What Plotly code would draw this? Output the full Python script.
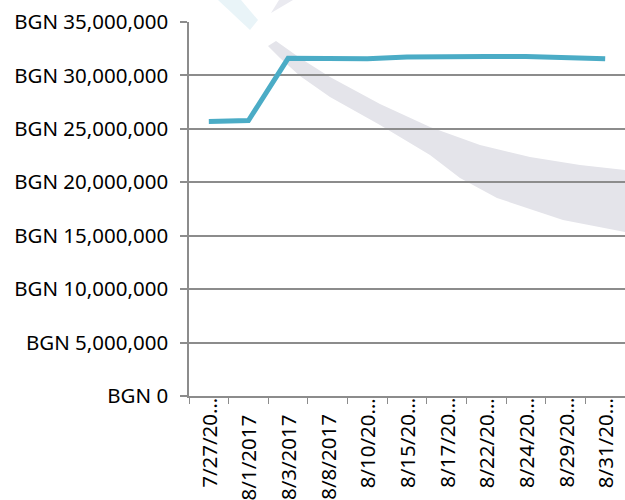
import plotly.graph_objects as go

categories = ["7/27/2017", "8/1/2017", "8/3/2017", "8/8/2017", "8/10/2017", "8/15/2017",
              "8/17/2017", "8/22/2017", "8/24/2017", "8/29/2017", "8/31/2017"]
tick_labels = ["7/27/20…", "8/1/2017", "8/3/2017", "8/8/2017", "8/10/20…", "8/15/20…",
               "8/17/20…", "8/22/20…", "8/24/20…", "8/29/20…", "8/31/20…"]
values = [25700000, 25780000, 31600000, 31550000, 31550000, 31720000,
          31800000, 31780000, 31760000, 31620000, 31550000]
y_ticks = [0, 5000000, 10000000, 15000000, 20000000, 25000000, 30000000, 35000000]
y_labels = ["BGN " + f"{v:,}" for v in y_ticks]

# plot area in pixels (for decorative watermark conversion)
PL, PR, PT, PB = 189, 625, 22, 396
def to_paper(pts):
    return [((x - PL) / (PR - PL), (PB - y) / (PB - PT)) for x, y in pts]

def path(pts):
    p = to_paper(pts)
    s = "M %f,%f " % p[0]
    for x, y in p[1:]:
        s += "L %f,%f " % (x, y)
    return s + "Z"

# decorative background watermark (logo swoosh)
grey_swoosh = [(268, 46), (276, 41), (300, 58), (330, 77), (380, 104), (430, 127), (480, 145),
               (530, 157), (580, 165), (625, 170), (625, 232), (563, 220), (497, 198),
               (460, 178), (430, 155), (380, 125), (330, 97), (300, 76), (280, 58)]
grey_tip = [(271, 13), (279, 0), (293, 0)]
blue_swoosh = [(218, 0), (241, 0), (258, 20), (250, 30)]

fig = go.Figure()
fig.add_trace(go.Scatter(
    x=categories, y=values, mode="lines",
    line=dict(color="#4BACC6", width=5),
    hoverinfo="skip", showlegend=False,
))

FS = 20.5
annotations = []
for cat, lab in zip(categories, tick_labels):
    top_px = 396 if lab.endswith("…") else 412
    annotations.append(dict(
        x=cat, xref="x", y=(PB - top_px) / (PB - PT), yref="paper",
        text=lab, textangle=-90, showarrow=False,
        xanchor="center", yanchor="top", font=dict(size=FS, color="black"),
    ))

fig.update_layout(
    width=625, height=500,
    margin=dict(l=PL, r=625 - PR, t=PT, b=500 - PB, autoexpand=False),
    paper_bgcolor="white", plot_bgcolor="rgba(0,0,0,0)",
    font=dict(family="Noto Sans, Open Sans, sans-serif", size=FS, color="black"),
    annotations=annotations,
    shapes=[
        dict(type="path", path=path(grey_swoosh), xref="paper", yref="paper",
             fillcolor="#E4E4EA", line=dict(width=0), layer="below"),
        dict(type="path", path=path(grey_tip), xref="paper", yref="paper",
             fillcolor="#EAEAF0", line=dict(width=0), layer="below"),
        dict(type="path", path=path(blue_swoosh), xref="paper", yref="paper",
             fillcolor="#E9F4F8", line=dict(width=0), layer="below"),
    ],
)
fig.update_xaxes(
    type="category", showgrid=False, automargin=False, showticklabels=False,
    showline=True, linecolor="#8C8C8C", linewidth=1.5,
    ticks="outside", tickson="boundaries", ticklen=6, tickcolor="#8C8C8C", tickwidth=1,
    range=[-0.5, len(categories) - 0.5],
)
fig.update_yaxes(
    range=[0, 35000000], tickvals=y_ticks, ticktext=y_labels, automargin=False,
    showgrid=True, gridcolor="#8C8C8C", gridwidth=1.5,
    showline=True, linecolor="#8C8C8C", linewidth=1.5,
    ticks="outside", ticklen=7, tickcolor="#8C8C8C", tickwidth=1.5,
    tickfont=dict(size=FS), zeroline=False, ticklabelstandoff=8,
)

fig.write_html("out.html", config={"displayModeBar": False},
               post_script="document.body.style.margin='0px';")
